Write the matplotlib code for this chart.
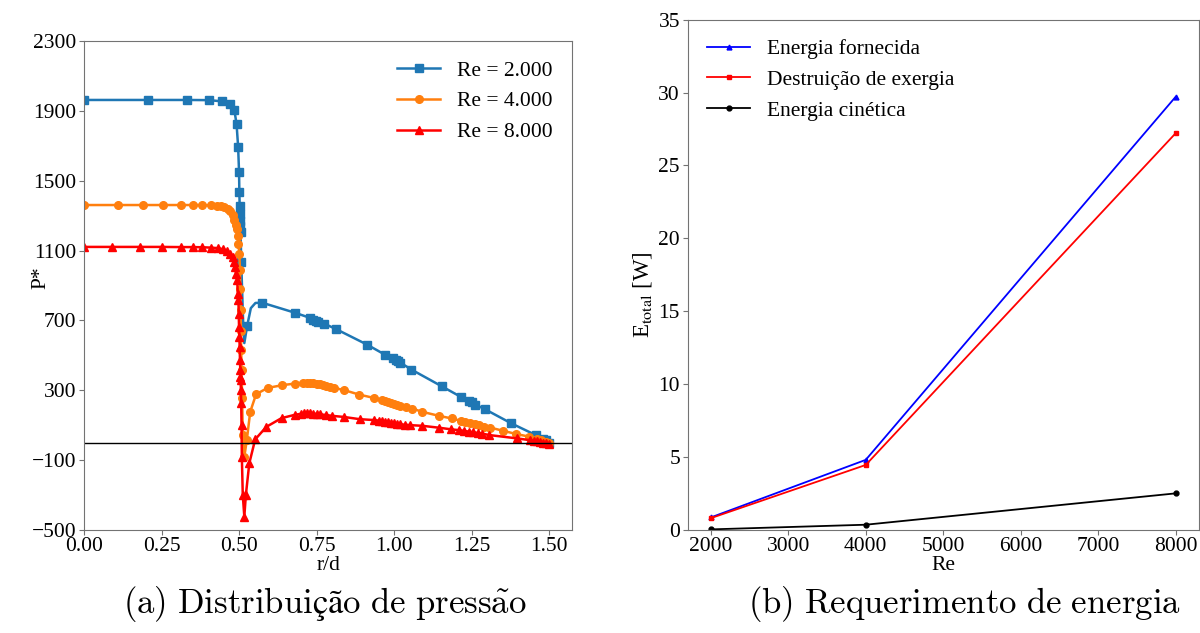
import matplotlib
matplotlib.use("Agg")
import matplotlib.pyplot as plt
import numpy as np

plt.rcParams['font.family'] = ['Liberation Serif', 'DejaVu Serif']
plt.rcParams['mathtext.fontset'] = 'stix'

# ---------------- data: (a) pressure distribution ----------------
r2000 = [0.0, 0.208, 0.331, 0.403, 0.445, 0.471, 0.485, 0.492, 0.497, 0.500,
         0.501, 0.502, 0.503, 0.5035, 0.504, 0.505, 0.507, 0.513, 0.517, 0.526,
         0.538, 0.553, 0.575, 0.680, 0.728, 0.740, 0.748, 0.756, 0.775, 0.813,
         0.913, 0.972, 0.997, 1.005, 1.012, 1.020, 1.056, 1.153, 1.215, 1.240,
         1.250, 1.262, 1.294, 1.378, 1.459, 1.480, 1.490, 1.500]
p2000 = [1963, 1963, 1963, 1962, 1955, 1938, 1904, 1824, 1696, 1551,
         1433, 1357, 1310, 1271, 1243, 1205, 1033, 700, 570, 667,
         770, 800, 801, 744, 715, 705, 699, 693, 681, 650,
         561, 502, 482, 475, 468, 458, 418, 323, 262, 239,
         230, 218, 190, 110, 41, 22, 14, -5]
unmarked2000 = [0.513, 0.517, 0.538, 0.553]

r4000 = [0.0, 0.11, 0.19, 0.256, 0.312, 0.352, 0.382, 0.409, 0.429, 0.442,
         0.452, 0.463, 0.472, 0.480, 0.485, 0.489, 0.493, 0.496, 0.498, 0.501,
         0.503, 0.504, 0.505, 0.506, 0.507, 0.508, 0.510, 0.512, 0.517, 0.525,
         0.536, 0.555, 0.592, 0.640, 0.680, 0.707, 0.72, 0.73, 0.74, 0.75,
         0.76, 0.77, 0.78, 0.793, 0.807, 0.840, 0.887, 0.934, 0.961, 0.97,
         0.98, 0.99, 1.00, 1.01, 1.02, 1.037, 1.058, 1.091, 1.145, 1.186,
         1.215, 1.23, 1.245, 1.26, 1.275, 1.291, 1.31, 1.35, 1.394, 1.435,
         1.46, 1.475, 1.49, 1.5]
p4000 = [1361, 1361, 1361, 1361, 1361, 1361, 1361, 1359, 1357, 1353,
         1347, 1338, 1325, 1304, 1277, 1249, 1224, 1186, 1138, 1081,
         990, 880, 760, 640, 530, 414, 253, 43, -81, 14,
         176, 277, 313, 329, 338, 343, 344, 343, 341, 338,
         334, 330, 325, 319, 313, 300, 275, 256, 243, 238,
         232, 226, 220, 215, 211, 205, 195, 176, 153, 138,
         125, 119, 113, 106, 98, 90, 86, 68, 49, 34,
         20, 12, 5, -3]

r8000 = [0.0, 0.09, 0.18, 0.25, 0.312, 0.35, 0.382, 0.409, 0.431, 0.447,
         0.461, 0.472, 0.479, 0.485, 0.488, 0.490, 0.494, 0.496, 0.498, 0.499,
         0.500, 0.501, 0.502, 0.503, 0.504, 0.5045, 0.505, 0.506, 0.507, 0.508,
         0.509, 0.512, 0.517, 0.522, 0.533, 0.552, 0.588, 0.637, 0.680, 0.70,
         0.71, 0.72, 0.73, 0.74, 0.75, 0.76, 0.78, 0.80, 0.837, 0.889,
         0.934, 0.95, 0.96, 0.97, 0.98, 0.99, 1.00, 1.01, 1.02, 1.035,
         1.05, 1.091, 1.145, 1.183, 1.21, 1.225, 1.24, 1.255, 1.27, 1.285,
         1.307, 1.396, 1.437, 1.45, 1.46, 1.47, 1.48, 1.49, 1.5]
p8000 = [1121, 1121, 1121, 1121, 1120, 1120, 1119, 1117, 1114, 1108,
         1100, 1081, 1062, 1033, 1005, 967, 929, 853, 814, 738,
         662, 605, 547, 471, 414, 376, 357, 300, 224, 100,
         -81, -300, -424, -300, -119, 18, 90, 140, 159, 165,
         168, 168, 167, 166, 164, 162, 158, 153, 147, 134,
         129, 126, 123, 120, 117, 114, 111, 108, 105, 102,
         100, 96, 85, 76, 71, 67, 63, 59, 55, 51,
         43, 24, 14, 10, 7, 4, 0, -4, -8]

labels_a = ['Re = 2.000', 'Re = 4.000', 'Re = 8.000']
yticks_a = [-500, -100, 300, 700, 1100, 1500, 1900, 2300]
xticks_a = [0.0, 0.25, 0.5, 0.75, 1.0, 1.25, 1.5]

# ---------------- data: (b) energy requirement ----------------
Re = [2000, 4000, 8000]
e_fornecida = [0.85, 4.8, 29.7]
e_destruicao = [0.80, 4.45, 27.2]
e_cinetica = [0.03, 0.35, 2.5]
labels_b = ['Energia fornecida', 'Destruição de exergia', 'Energia cinética']

fs = 15.5
fig = plt.figure(figsize=(12, 6.33), dpi=100)

# ---- (a)
ax1 = fig.add_axes([0.070, 0.163, 0.407, 0.772])
mark2000 = [i for i, x in enumerate(r2000) if x not in unmarked2000]
ax1.plot(r2000, p2000, '-s', color='#1f77b4', lw=1.8, ms=5.5, markevery=mark2000, label=labels_a[0])
ax1.plot(r4000, p4000, '-o', color='#ff7f0e', lw=1.8, ms=5.5, label=labels_a[1])
ax1.plot(r8000, p8000, '-^', color='red', lw=1.8, ms=5.5, label=labels_a[2])
ax1.axhline(0, color='black', lw=1.0)
ax1.set_xlim(0, 1.575)
ax1.set_ylim(-500, 2300)
ax1.set_yticks(yticks_a)
ax1.set_xticks(xticks_a)
ax1.set_xticklabels([f'{v:.2f}' for v in xticks_a])
ax1.set_xlabel('r/d', fontsize=fs, labelpad=0)
ax1.set_ylabel('P*', fontsize=fs)
ax1.yaxis.set_label_coords(-0.068, 0.515)
ax1.tick_params(labelsize=fs, pad=2)
ax1.legend(loc='upper right', frameon=False, fontsize=fs)

# ---- (b)
ax2 = fig.add_axes([0.573, 0.163, 0.426, 0.806])
ax2.plot(Re, e_fornecida, '-^', color='blue', lw=1.3, ms=3.5, label=labels_b[0])
ax2.plot(Re, e_destruicao, '-s', color='red', lw=1.3, ms=3.5, label=labels_b[1])
ax2.plot(Re, e_cinetica, '-o', color='black', lw=1.3, ms=3.5, label=labels_b[2])
ax2.set_xlim(1700, 8300)
ax2.set_ylim(0, 35)
ax2.set_xticks([2000, 3000, 4000, 5000, 6000, 7000, 8000])
ax2.set_yticks([0, 5, 10, 15, 20, 25, 30, 35])
ax2.set_xlabel('Re', fontsize=fs, labelpad=0)
ax2.set_ylabel(r'E$_{\mathrm{total}}$ [W]', fontsize=fs + 1)
ax2.yaxis.set_label_coords(-0.066, 0.46)
ax2.tick_params(labelsize=fs, pad=2)
ax2.legend(loc='upper left', frameon=False, fontsize=fs)

for ax in (ax1, ax2):
    for s in ax.spines.values():
        s.set_color('0.45')
    ax.tick_params(color='0.45')

cap_a = r'$\mathrm{(a)\ Distribuição\ de\ press\tilde{a}o}$'
cap_b = r'$\mathrm{(b)\ Requerimento\ de\ energia}$'
fig.text(0.271, 0.046, cap_a, ha='center', va='center', fontsize=25,
         math_fontfamily='cm')
fig.text(0.804, 0.046, cap_b, ha='center', va='center', fontsize=25,
         math_fontfamily='cm')

fig.savefig('out.png', dpi=100)
